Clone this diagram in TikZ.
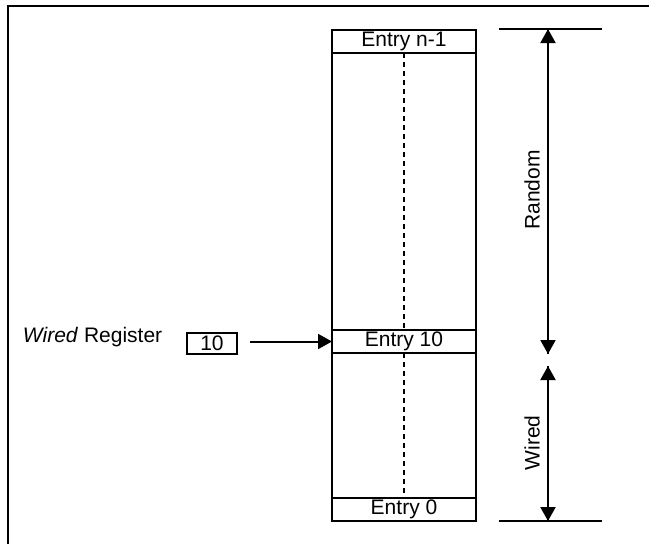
\documentclass[tikz,border=0pt]{standalone}
\usepackage{fontspec}
\setmainfont{Liberation Sans}
\usetikzlibrary{arrows.meta}

\begin{document}
\begin{tikzpicture}[x=1pt,y=-1pt,line width=2pt,
  every node/.style={font=\fontsize{21}{25}\selectfont, inner sep=0pt, outer sep=0pt},
  entry/.style={draw, minimum width=144pt, minimum height=23pt},
  ptr/.style={-{Triangle[length=14pt,width=15pt]}}]
\useasboundingbox (0,0) rectangle (649,544);
\draw (649,6) -- (8,6) -- (8,544);

\node[entry] (entrytop)  at (404,41.5)  {Entry n-1};
\node[entry] (entryten)  at (404,341.5) {Entry 10};
\node[entry] (entryzero) at (404,509.5) {Entry 0};
\draw (entrytop.north west) rectangle (entryzero.south east);
\draw[dashed, dash pattern=on 5pt off 4pt] (entrytop.south) -- (entryten.north);
\draw[dashed, dash pattern=on 5pt off 4pt] (entryten.south) -- (entryzero.north);

\node[anchor=base west] (wiredlbl) at (23,342) {\textit{Wired} Register};
\node[draw, minimum width=50pt, minimum height=21pt] (reg) at (212,343) {10};
\draw[ptr] ([xshift=13pt]reg.east |- entryten.west) -- (entryten.west);

\coordinate (limtopl) at (499,29);
\coordinate (limtopr) at (602,29);
\coordinate (limbotl) at (499,521);
\coordinate (limbotr) at (602,521);
\coordinate (randtop) at (548,29);
\coordinate (randbot) at (548,354);
\coordinate (wiretop) at (548,366);
\coordinate (wirebot) at (548,521);
\draw (limtopl) -- (limtopr);
\draw (limbotl) -- (limbotr);
\draw[ptr] (randtop) -- (randbot);
\draw[ptr] (randbot) -- (randtop);
\draw[ptr] (wiretop) -- (wirebot);
\draw[ptr] (wirebot) -- (wiretop);

\node[rotate=90] (randlbl) at (532,190) {Random};
\node[rotate=90] (wirelbl) at (532,443) {Wired};
\end{tikzpicture}
\end{document}
